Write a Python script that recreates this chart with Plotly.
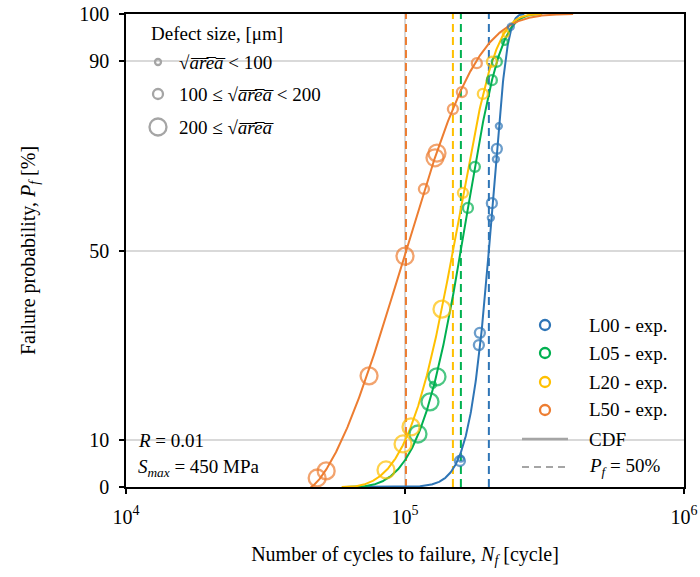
import numpy as np
import plotly.graph_objects as go

SERIF = "Liberation Serif"

# ---- experimental data: cycles to failure, failure probability [%], defect size class
# defect size class: 0 -> sqrt(area) < 100 um, 1 -> 100..200 um, 2 -> >= 200 um
series_names = ["L00 - exp.", "L05 - exp.", "L20 - exp.", "L50 - exp."]
series_colors = ["#2E75B6", "#00B050", "#FFC000", "#ED7D31"]

l00_cycles = [157300, 158600, 185500, 184000, 204800, 203100, 213400, 211700, 217000, 239500]
l00_pf = [5.5, 6.0, 32.6, 30.0, 60.0, 56.9, 71.5, 69.3, 76.3, 97.3]
l00_defect = [1, 0, 1, 1, 1, 0, 1, 0, 0, 0]

l05_cycles = [111300, 122900, 130200, 126000, 168100, 178000, 204800, 213400, 227900]
l05_pf = [11.2, 18.0, 23.3, 21.6, 59.0, 67.7, 86.0, 89.9, 94.1]
l05_defect = [2, 2, 2, 0, 1, 1, 1, 1, 0]

l20_cycles = [85500, 98400, 105100, 135700, 161300, 190100, 204800, 229800]
l20_pf = [3.6, 9.1, 12.7, 37.6, 62.2, 83.1, 89.9, 95.8]
l20_defect = [2, 2, 2, 2, 1, 1, 1, 0]

l50_cycles = [48440, 52170, 74330, 100000, 116900, 128100, 130200, 148500, 159900, 180900]
l50_pf = [1.9, 3.4, 23.5, 48.8, 63.0, 69.6, 70.6, 79.9, 83.5, 89.6]
l50_defect = [2, 2, 2, 2, 1, 2, 2, 1, 1, 1]

# cycles at P_f = 50 %
median_cycles = [199800, 158600, 148500, 100800]

x_tick_vals = [1e4, 1e5, 1e6]
x_tick_text = ["10<sup>4</sup>", "10<sup>5</sup>", "10<sup>6</sup>"]
y_tick_vals = [0, 10, 50, 90, 100]

defect_labels = [
    "\u221a<i>a\u0305r\u0305e\u0305a\u0305</i> < 100",
    "100 \u2264 \u221a<i>a\u0305r\u0305e\u0305a\u0305</i> < 200",
    "200 \u2264 \u221a<i>a\u0305r\u0305e\u0305a\u0305</i>",
]

cycles_all = [l00_cycles, l05_cycles, l20_cycles, l50_cycles]
pf_all = [l00_pf, l05_pf, l20_pf, l50_pf]
defect_all = [l00_defect, l05_defect, l20_defect, l50_defect]

MARKER_SIZE = {0: 6, 1: 10, 2: 17}


def fit_weibull3(cycles, pf, n50):
    """Three-parameter Weibull CDF constrained to pass through the median."""
    n = np.asarray(cycles, float)
    f = np.asarray(pf, float) / 100.0
    n0 = np.linspace(0.0, 0.995 * n.min(), 400)[:, None, None]
    k = np.linspace(0.8, 20.0, 600)[None, :, None]
    lam = (n50 - n0) / np.log(2.0) ** (1.0 / k)
    z = np.clip(n[None, None, :] - n0, 0, None) / lam
    fhat = 1.0 - np.exp(-(z ** k))
    sse = ((fhat - f) ** 2).sum(axis=2)
    i, j = np.unravel_index(np.argmin(sse), sse.shape)
    return float(n0[i, 0, 0]), float(k[0, j, 0]), float(lam[i, j, 0])


def weibull_curve(n0, k, lam):
    n_lo = max(n0, 1e4) * 1.0001
    n_hi = n0 + lam * (-np.log(2e-4)) ** (1.0 / k)
    n = np.logspace(np.log10(n_lo), np.log10(n_hi), 400)
    return n, 100.0 * (1.0 - np.exp(-(((n - n0) / lam) ** k)))


fig = go.Figure()

# dashed median lines
for name, color, m in zip(series_names, series_colors, median_cycles):
    fig.add_trace(go.Scatter(x=[m, m], y=[0, 100], mode="lines",
                             line=dict(color=color, width=2, dash="8px,5px"),
                             showlegend=False, hoverinfo="skip"))

# fitted CDF curves
for name, color, c, p, m in zip(series_names, series_colors, cycles_all, pf_all, median_cycles):
    n0, k, lam = fit_weibull3(c, p, m)
    xs, ys = weibull_curve(n0, k, lam)
    fig.add_trace(go.Scatter(x=xs, y=ys, mode="lines",
                             line=dict(color=color, width=2),
                             showlegend=False, hoverinfo="skip"))

# experimental points (hollow circles, size by defect class)
for name, color, c, p, d in zip(series_names, series_colors, cycles_all, pf_all, defect_all):
    fig.add_trace(go.Scatter(x=c, y=p, mode="markers", name=name,
                             marker=dict(symbol="circle", color="rgba(0,0,0,0)",
                                         size=[MARKER_SIZE[v] for v in d],
                                         line=dict(width=2.3, color=color)),
                             cliponaxis=False, showlegend=False))

# ---- layout helpers (pixel position inside the plotting area -> paper fraction)
L, R, T, B = 126, 16, 14, 90
W, H = 700, 577
PW, PH = W - L - R, H - T - B


def fx(px):
    return (px - L) / PW


def fy(py):
    return (H - B - py) / PH


shapes = []
annotations = []
GRAY = "#A5A5A5"

# white panels behind the two legends (hide gridlines only)
shapes.append(dict(type="rect", xref="paper", yref="paper", layer="between",
                   x0=fx(138), x1=fx(285), y0=fy(145), y1=fy(20),
                   fillcolor="white", line=dict(width=0)))
shapes.append(dict(type="rect", xref="paper", yref="paper", layer="between",
                   x0=fx(515), x1=fx(663), y0=fy(482), y1=fy(310),
                   fillcolor="white", line=dict(width=0)))


def circle_swatch(px, py, d, color):
    r = d / 2.0
    return dict(type="circle", xref="paper", yref="paper",
                xsizemode="pixel", ysizemode="pixel",
                xanchor=fx(px), yanchor=fy(py),
                x0=-r, x1=r, y0=-r, y1=r,
                line=dict(color=color, width=2.3), fillcolor="rgba(0,0,0,0)")


def label(px, py, text, size=19):
    return dict(x=fx(px), y=fy(py), xref="paper", yref="paper", text=text,
                showarrow=False, xanchor="left", yanchor="middle",
                font=dict(family=SERIF, size=size, color="black"))


# left legend: defect size
annotations.append(label(149, 33, "Defect size, [\u03bcm]"))
for cls, py in zip([0, 1, 2], [62, 94, 127]):
    shapes.append(circle_swatch(158, py, MARKER_SIZE[cls], GRAY))
    annotations.append(label(177, py, defect_labels[cls]))

# right legend: series, CDF, median
for name, color, py in zip(series_names, series_colors, [325, 353, 382, 410]):
    shapes.append(circle_swatch(545, py, MARKER_SIZE[1], color))
    annotations.append(label(587, py, name))
shapes.append(dict(type="line", xref="paper", yref="paper",
                   x0=fx(522), x1=fx(568), y0=fy(439), y1=fy(439),
                   line=dict(color=GRAY, width=2.5)))
annotations.append(label(587, 439, "CDF"))
shapes.append(dict(type="line", xref="paper", yref="paper",
                   x0=fx(522), x1=fx(568), y0=fy(467), y1=fy(467),
                   line=dict(color=GRAY, width=2, dash="7px,5px")))
annotations.append(label(587, 467, "<i>P</i><sub><i>f</i></sub> = 50%"))

# test conditions
annotations.append(label(136, 440, "<i>R</i> = 0.01"))
annotations.append(label(136, 468, "<i>S</i><sub><i>max</i></sub> = 450 MPa"))

axis_common = dict(showline=True, linecolor="black", linewidth=1.5, mirror=True,
                   ticks="outside", ticklen=5, tickwidth=1.5, tickcolor="black",
                   showgrid=True, gridcolor="#D9D9D9", gridwidth=1.5, zeroline=False,
                   automargin=False,
                   tickfont=dict(family=SERIF, size=20, color="black"))

fig.update_layout(
    width=W, height=H,
    margin=dict(l=L, r=R, t=T, b=B),
    paper_bgcolor="white", plot_bgcolor="white",
    showlegend=False,
    shapes=shapes, annotations=annotations,
    xaxis=dict(type="log", range=[4, 6], tickvals=x_tick_vals, ticktext=x_tick_text,
               title=dict(text="Number of cycles to failure, <i>N</i><sub><i>f</i></sub> [cycle]",
                          font=dict(family=SERIF, size=20, color="black"), standoff=20),
               ticklabelstandoff=6, **axis_common),
    yaxis=dict(range=[0, 100], tickvals=y_tick_vals,
               title=dict(text="Failure probability, <i>P</i><sub><i>f</i></sub> [%]",
                          font=dict(family=SERIF, size=20, color="black"), standoff=38),
               ticklabelstandoff=6, **axis_common),
)

fig.write_html("out.html")
